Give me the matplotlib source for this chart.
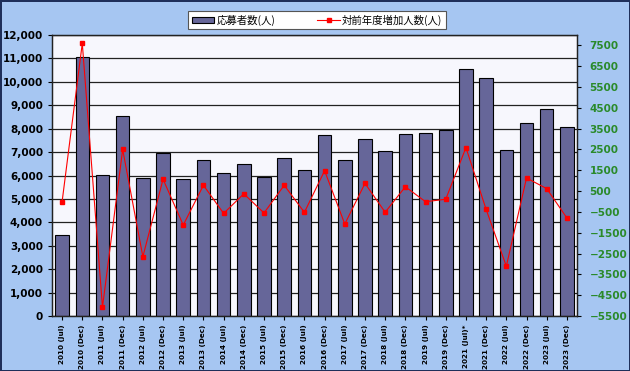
import numpy as np
import matplotlib.pyplot as plt
from matplotlib.ticker import FuncFormatter

plt.rcParams['font.family'] = ['Noto Sans CJK JP', 'DejaVu Sans']

# data
periods = ['2010 (Jul)', '2010 (Dec)', '2011 (Jul)', '2011 (Dec)', '2012 (Jul)', '2012 (Dec)',
           '2013 (Jul)', '2013 (Dec)', '2014 (Jul)', '2014 (Dec)', '2015 (Jul)', '2015 (Dec)',
           '2016 (Jul)', '2016 (Dec)', '2017 (Jul)', '2017 (Dec)', '2018 (Jul)', '2018 (Dec)',
           '2019 (Jul)', '2019 (Dec)', '2021 (Jul)*', '2021 (Dec)', '2022 (Jul)', '2022 (Dec)',
           '2023 (Jul)', '2023 (Dec)']
applicants = [3460, 11080, 6020, 8550, 5890, 6970, 5850, 6660, 6110, 6490, 5940, 6750,
              6230, 7740, 6660, 7560, 7040, 7770, 7810, 7950, 10550, 10180, 7090, 8240,
              8860, 8070]
increase = [-10, 7600, -5080, 2500, -2650, 1070, -1130, 780, -570, 370, -550, 780,
            -520, 1480, -1080, 870, -515, 710, -10, 110, 2590, -380, -3110, 1130,
            620, -790]

bar_label = '応募者数(人)'
line_label = '対前年度増加人数(人)'

fig = plt.figure(figsize=(6.30, 3.71), dpi=100)
fig.patch.set_facecolor('#a6c6f2')
fig.patch.set_edgecolor('#1f2f5a')
fig.patch.set_linewidth(2)

ax = fig.add_axes([52/630, 1 - 316/371, 525/630, 281/371])
ax.set_facecolor('#f7f7fd')
x = np.arange(len(periods))

ax.set_axisbelow(True)
ax.yaxis.grid(True, color='#222222', linewidth=0.9)
bars = ax.bar(x, applicants, width=0.67, color='#666699', edgecolor='black', linewidth=0.8,
              label=bar_label)
ax.set_xlim(-0.5, len(periods) - 0.5)
ax.set_ylim(0, 12000)
ax.set_yticks(range(0, 12001, 1000))
ax.yaxis.set_major_formatter(FuncFormatter(lambda v, p: f'{int(v):,}'))
ax.set_xticks(x)
ax.set_xticklabels(periods, rotation=90, fontsize=5.2, fontweight='bold', family='DejaVu Sans')
ax.tick_params(axis='y', labelsize=7.5, length=3)
ax.tick_params(axis='x', length=3, pad=3)
for t in ax.get_yticklabels():
    t.set_fontweight('bold')
    t.set_family('DejaVu Sans')

ax2 = ax.twinx()
ln, = ax2.plot(x, increase, color='#ff0000', linewidth=0.8, marker='s', markersize=3.5,
               label=line_label)
ax2.set_ylim(-5500, 8000)
ax2.set_yticks(range(-5500, 7501, 1000))
ax2.tick_params(axis='y', labelsize=7.5, colors='#2a8a2a', length=3, pad=6)
for t in ax2.get_yticklabels():
    t.set_fontweight('bold')
    t.set_family('DejaVu Sans')
ax2.tick_params(axis='y', color='black')

for a in (ax, ax2):
    for s in a.spines.values():
        s.set_color('#222222')
        s.set_linewidth(0.9)

leg = fig.legend([bars, ln], [bar_label, line_label], ncol=2, loc='center',
                 bbox_to_anchor=(317/630, 1 - 20/371), fontsize=7.5, frameon=True,
                 fancybox=False, edgecolor='#555555', facecolor='white', framealpha=1,
                 handlelength=2.2, handleheight=0.5,
                 handletextpad=0.2, columnspacing=4, borderpad=0.3, borderaxespad=0)
leg.get_frame().set_linewidth(0.8)

fig.savefig('out.png', dpi=100, facecolor=fig.get_facecolor(), edgecolor=fig.get_edgecolor())
